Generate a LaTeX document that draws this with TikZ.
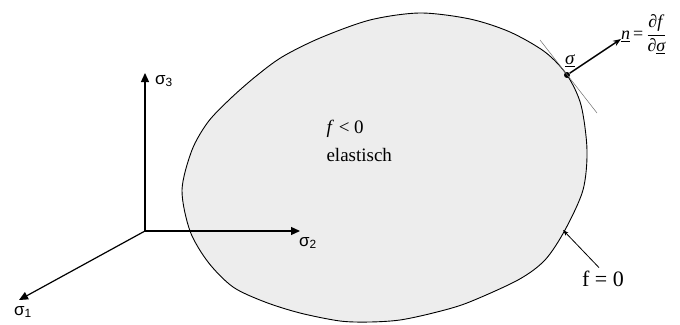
\documentclass[tikz,border=0pt]{standalone}
\usepackage{fontspec}
\setmainfont{Liberation Serif}
\newfontfamily\axisfont{Liberation Sans}
\usetikzlibrary{arrows.meta, positioning}
\definecolor{regiongray}{RGB}{237, 237, 237}
\definecolor{tangentgray}{RGB}{110, 110, 110}

\begin{document}
\begin{tikzpicture}[x=1pt, y=-1pt,
    axis/.style={-{Triangle[length=9pt, width=8pt]}, line width=1.2pt},
    axislabel/.style={font=\axisfont\fontsize{17}{17}\selectfont, inner sep=0pt}]
  \useasboundingbox (0,0) rectangle (680,324);

  % elastic region bounded by the yield surface
  \draw[fill=regiongray, line width=0.9pt] plot[smooth cycle, tension=0.5]
    coordinates {(420,13) (470,19) (510,32) (545,52) (567,75) (581,105)
      (587,150) (583,190) (565,230) (545,260) (518,280) (467,303) (433,313)
      (400,320) (370,322) (340,321) (300,313) (265,302) (233,287) (208,262)
      (190,231) (182,190) (192,150) (208,122) (230,99) (255,77) (282,57)
      (320,38) (370,20)};

  % principal stress axes
  \coordinate (O) at (145,231);
  \coordinate (s1tip) at (19,300);
  \coordinate (s2tip) at (300,231);
  \coordinate (s3tip) at (145,73);
  \draw[axis] (O) -- (s1tip);
  \draw[axis] (O) -- (s2tip);
  \draw[axis] (O) -- (s3tip);
  \node[axislabel] (s1) at (23,312) {σ\textsubscript{1}};
  \node[axislabel] (s2) at (308,243) {σ\textsubscript{2}};
  \node[axislabel] (s3) at (164,81) {σ\textsubscript{3}};

  \node[anchor=west, font=\fontsize{19}{19}\selectfont] (fneg) at (323,129)
    {\textit{f} < 0};
  \node[anchor=west, font=\fontsize{19}{19}\selectfont] (elast) at (323,155)
    {elastisch};

  % stress point with tangent and normal
  \node[circle, fill, inner sep=0pt, minimum size=6pt] (sp) at (567,75) {};
  \coordinate (tA) at (540,40);
  \coordinate (tB) at (597,113);
  \draw[tangentgray, line width=0.5pt] (tA) -- (tB);
  \node[font=\fontsize{19}{19}\selectfont] (sig) at (570,61)
    {\underline{\textit{σ}}};
  \coordinate (ntip) at (621,39);
  \draw[-{Stealth[length=8pt, width=6pt]}, line width=1.5pt] (sp) -- (ntip);
  \node[anchor=west, inner sep=0pt, font=\fontsize{18}{18}\selectfont] (nlabel)
    at (621,34)
    {\underline{\textit{n}}\,=\,$\displaystyle\frac{\mbox{\textit{∂f}}}{\mbox{\textit{∂\underline{σ}}}}$};

  % yield surface label
  \node[font=\fontsize{22}{22}\selectfont] (fzero) at (603,279) {f = 0};
  \coordinate (fzhead) at (563,230);
  \draw[-{Stealth[length=6pt, width=4pt]}, line width=0.8pt]
    ([xshift=-4pt]fzero.north) -- (fzhead);
\end{tikzpicture}
\end{document}
